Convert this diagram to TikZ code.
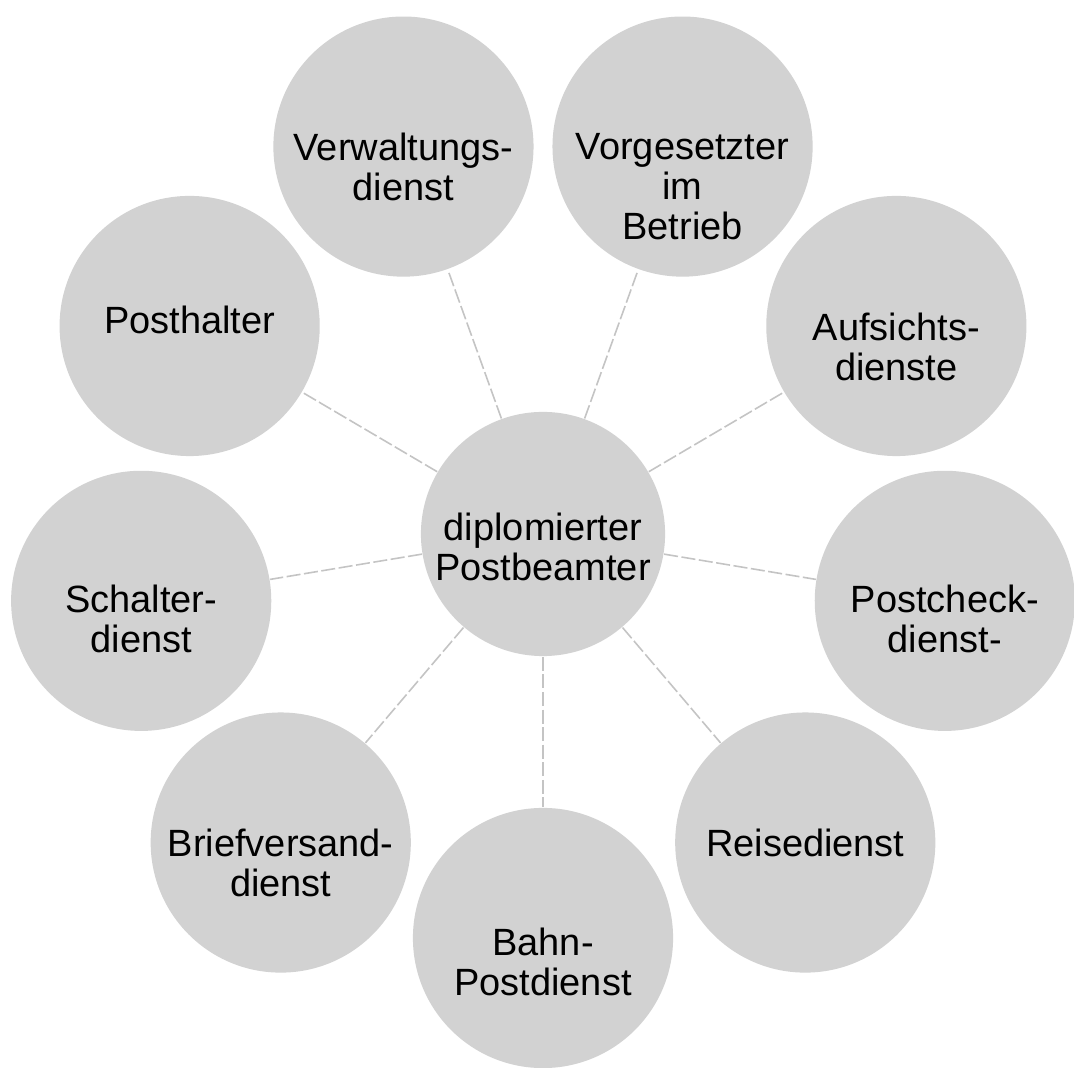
\documentclass[tikz,border=0pt]{standalone}
\usepackage{fontspec}
\setmainfont{Liberation Sans}
\usepackage{tikz}
\usetikzlibrary{calc}
\definecolor{DiscGray}{HTML}{D2D2D2}
\definecolor{SpokeGray}{HTML}{C4C4C4}

\begin{document}
\begin{tikzpicture}[x=0.01cm, y=0.01cm,
    disc/.style={circle, fill=DiscGray, minimum size=2.6cm, inner sep=0pt},
    lbl/.style={align=center, inner sep=0pt, font=\fontsize{10.8}{11.4}\selectfont},
    spoke/.style={SpokeGray, line width=0.45pt, dash pattern=on 4pt off 1pt}]  % 九个外圈
  \useasboundingbox (-543,-538) rectangle (531,530);
  \fill[white] (-543,-538) rectangle (531,530);
  \node[disc, minimum size=2.44cm] (mid) at (0,-4) {};
  \node[lbl] (mid-t) at ($(mid)+(0,-13)$) {diplomierter\\Postbeamter};
  \foreach \n/\a/\d/\txt in {bahn/-90/-24/{Bahn-\\Postdienst},
      reise/-50/0/{Reisedienst},
      pcheck/-10/-18/{Postcheck-\\dienst-},
      aufs/30/-21/{Aufsichts-\\dienste},
      vorg/70/-40/{Vorgesetzter\\im\\Betrieb},
      verw/110/-20/{Verwaltungs-\\dienst},
      phalt/150/6/{Posthalter},
      schalt/190/-18/{Schalter-\\dienst},
      brief/230/-20/{Briefversand-\\dienst}}{
    \node[disc] (\n) at (\a:408) {};
    \node[lbl] (\n-t) at ($(\n)+(0,\d)$) {\txt};
    \draw[spoke] (mid) -- (\n);
  }
\end{tikzpicture}
\end{document}
